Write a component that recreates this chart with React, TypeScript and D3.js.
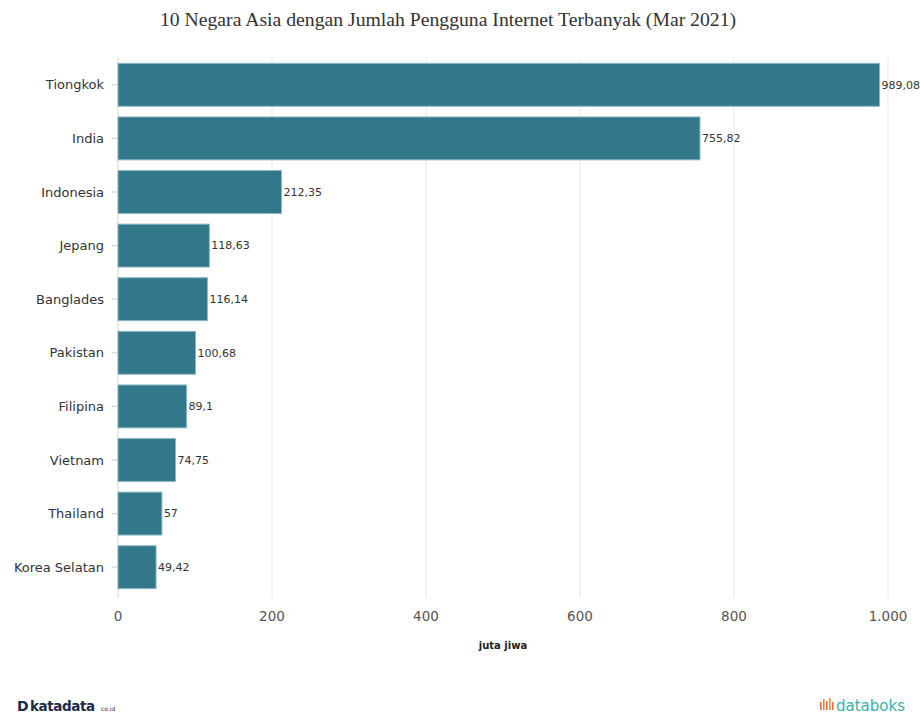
import React from "react";
import * as d3 from "d3";

const categories = ["Tiongkok", "India", "Indonesia", "Jepang", "Banglades", "Pakistan", "Filipina", "Vietnam", "Thailand", "Korea Selatan"];
const values = [989.08, 755.82, 212.35, 118.63, 116.14, 100.68, 89.1, 74.75, 57, 49.42];
const valueLabels = ["989,08", "755,82", "212,35", "118,63", "116,14", "100,68", "89,1", "74,75", "57", "49,42"];
const xTicks = [0, 200, 400, 600, 800, 1000];
const xTickLabels = ["0", "200", "400", "600", "800", "1.000"];

const W = 920, H = 715;
const left = 118, right = 888, top = 58, bottom = 594;

export default function App() {
  const x = d3.scaleLinear().domain([0, 1000]).range([left, right]);
  const y = d3.scaleBand<string>().domain(categories).range([top, bottom]).paddingInner(0.2).paddingOuter(0.1);
  const font = "Verdana, 'DejaVu Sans', sans-serif";
  return (
    <svg width={W} height={H} style={{ position: "absolute", left: 0, top: 0, background: "#fff" }}>
      <text x={448} y={26} textAnchor="middle" fontFamily="'Liberation Serif', 'Times New Roman', serif" fontSize={19.7} fill="#333">
        10 Negara Asia dengan Jumlah Pengguna Internet Terbanyak (Mar 2021)
      </text>
      {xTicks.map((t, k) => (
        <g key={t}>
          <line x1={x(t)} x2={x(t)} y1={top} y2={bottom + 4} stroke={t === 0 ? "#d8d8d8" : "#e8e8e8"} strokeWidth={1} />
          <text x={x(t)} y={621} textAnchor="middle" fontFamily={font} fontSize={13.5} fill="#555">
            {xTickLabels[k]}
          </text>
        </g>
      ))}
      {categories.map((c, i) => {
        const yc = (y(c) as number) + y.bandwidth() / 2;
        return (
          <g key={c}>
            <line x1={left - 6} x2={left - 1} y1={yc} y2={yc} stroke="#ccc" />
            <text x={left - 14} y={yc} dy="0.35em" textAnchor="end" fontFamily={font} fontSize={13} fill="#333">
              {c}
            </text>
            <rect x={x(0)} y={y(c)} width={x(values[i]) - x(0)} height={y.bandwidth()} fill="#33778a" stroke="#8cb6c2" strokeWidth={1} />
            <text x={x(values[i]) + 2} y={yc} dy="0.35em" fontFamily={font} fontSize={11} fill="#333">
              {valueLabels[i]}
            </text>
          </g>
        );
      })}
      <text x={503} y={649} textAnchor="middle" fontFamily={font} fontSize={10} fontWeight="bold" fill="#222">
        juta jiwa
      </text>
      <g>
        <text x={17} y={711} fontFamily="'DejaVu Sans', sans-serif" fontWeight="bold" fontSize={14} fill="#1d2a4a">
          D
        </text>
        <text x={30} y={711} fontFamily="'DejaVu Sans', sans-serif" fontWeight="bold" fontSize={13.5} fill="#1d2a4a" letterSpacing={-0.4}>
          katadata
        </text>
        <text x={101} y={711} fontFamily="'DejaVu Sans', sans-serif" fontSize={6} fill="#1d2a4a">
          co.id
        </text>
      </g>
      <g>
        <rect x={820} y={702} width={1.6} height={8} fill="#e9694a" />
        <rect x={823} y={699} width={1.6} height={11} fill="#f08a3a" />
        <rect x={826} y={701} width={1.6} height={9} fill="#e9694a" />
        <rect x={829} y={698} width={1.6} height={12} fill="#f08a3a" />
        <rect x={832} y={702} width={1.6} height={8} fill="#e9694a" />
        <text x={836} y={711} fontFamily="'DejaVu Sans', sans-serif" fontSize={15} fill="#3bb0a8">
          databoks
        </text>
      </g>
    </svg>
  );
}
